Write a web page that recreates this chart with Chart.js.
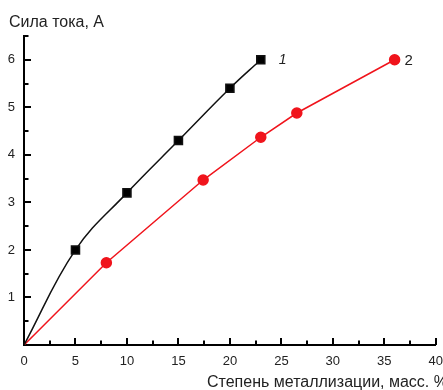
<!DOCTYPE html>
<html>
<head>
<meta charset="utf-8">
<script src="https://cdn.jsdelivr.net/npm/chart.js@4"></script>
<style>
  html, body { margin: 0; padding: 0; background: #fff; }
  #wrap { width: 443px; height: 390px; overflow: hidden; }
</style>
</head>
<body>
<div id="wrap"><canvas id="myChart" width="443" height="390"></canvas></div>
<script>
// Степень металлизации (x) и сила тока (y)
var xs1 = [0, 5, 10, 15, 20, 23];
var ys1 = [0, 2.0, 3.2, 4.3, 5.4, 6.0];
var xs2 = [0, 8, 17.4, 23, 26.5, 36];
var ys2 = [0, 1.73, 3.47, 4.37, 4.88, 6.0];
var seriesLabels = ['1', '2'];
var xTicks = [0, 5, 10, 15, 20, 25, 30, 35, 40];
var yTicks = [1, 2, 3, 4, 5, 6];
var yTitle = 'Сила тока, А';
var xTitle = 'Степень металлизации, масс. %';

var FONT = '"Liberation Sans", Arial, sans-serif';
var INK = '#222';

function toPoints(xs, ys) {
  var pts = [];
  for (var i = 0; i < xs.length; i++) {
    pts.push({x: xs[i], y: ys[i]});
  }
  return pts;
}

// tick marks pointing into the plot, major + minor
var innerTicks = {
  id: 'innerTicks',
  afterDraw: function(chart) {
    var c = chart.ctx;
    var sx = chart.scales.x, sy = chart.scales.y;
    var x0 = sx.getPixelForValue(0), y0 = sy.getPixelForValue(0);
    c.save();
    c.fillStyle = '#000';
    for (var i = 1; i <= 16; i++) {
      var px = sx.getPixelForValue(i * 2.5);
      var len = (i % 2 === 0) ? 7 : 4.5;
      c.fillRect(Math.round(px) - 1, y0 - len, 2, len);
    }
    for (var j = 1; j <= 13; j++) {
      var py = sy.getPixelForValue(j * 0.5);
      var l = (j % 2 === 0) ? 7 : 4.5;
      c.fillRect(x0, Math.round(py) - 1, l, 2);
    }

    // titles
    c.fillStyle = INK;
    c.textBaseline = 'middle';
    c.textAlign = 'left';
    c.font = '16px ' + FONT;
    c.fillText(yTitle, 9, 23);
    c.fillText(xTitle, 207, 383);

    // series numbers next to last point
    var last1 = xs1.length - 1, last2 = xs2.length - 1;
    c.font = 'italic 14px ' + FONT;
    c.fillText(seriesLabels[0], sx.getPixelForValue(xs1[last1]) + 18, sy.getPixelForValue(ys1[last1]));
    c.font = '15px ' + FONT;
    c.fillText(seriesLabels[1], sx.getPixelForValue(xs2[last2]) + 10, sy.getPixelForValue(ys2[last2]) + 1);
    c.restore();
  }
};

var ctx = document.getElementById('myChart');
var chart = new Chart(ctx, {
  type: 'scatter',
  data: {
    datasets: [{
      label: seriesLabels[0],
      data: toPoints(xs1, ys1),
      showLine: true,
      borderColor: '#111',
      backgroundColor: '#000',
      borderWidth: 1.5,
      pointStyle: 'rect',
      pointRadius: [0, 5.7, 5.7, 5.7, 5.7, 5.7],
      tension: 0.4
    }, {
      label: seriesLabels[1],
      data: toPoints(xs2, ys2),
      showLine: true,
      borderColor: '#f0141c',
      backgroundColor: '#f0141c',
      borderWidth: 1.5,
      pointStyle: 'circle',
      pointRadius: [0, 5, 5, 5, 5, 5],
      tension: 0
    }]
  },
  options: {
    responsive: false,
    animation: false,
    layout: { padding: { left: 0, right: 7, top: 36, bottom: 0 } },
    plugins: {
      legend: { display: false },
      tooltip: { enabled: false }
    },
    scales: {
      x: {
        type: 'linear',
        min: 0,
        max: 40,
        afterFit: function(scale) {
          scale.height = 45;
          scale.paddingLeft = 0;
          scale.paddingRight = 0;
        },
        afterBuildTicks: function(scale) {
          scale.ticks = xTicks.map(function(v) { return {value: v}; });
        },
        grid: { display: false, drawTicks: false },
        border: { display: true, color: '#000', width: 2 },
        ticks: { padding: 9, color: INK, font: { family: FONT, size: 13 }, autoSkip: false, maxRotation: 0 }
      },
      y: {
        type: 'linear',
        min: 0,
        max: 6.5,
        afterFit: function(scale) { scale.width = 24; },
        afterBuildTicks: function(scale) {
          scale.ticks = yTicks.map(function(v) { return {value: v}; });
        },
        grid: { display: false, drawTicks: false },
        border: { display: true, color: '#000', width: 2 },
        ticks: { padding: 9, color: INK, font: { family: FONT, size: 13 }, autoSkip: false }
      }
    }
  },
  plugins: [innerTicks]
});
</script>
</body>
</html>
